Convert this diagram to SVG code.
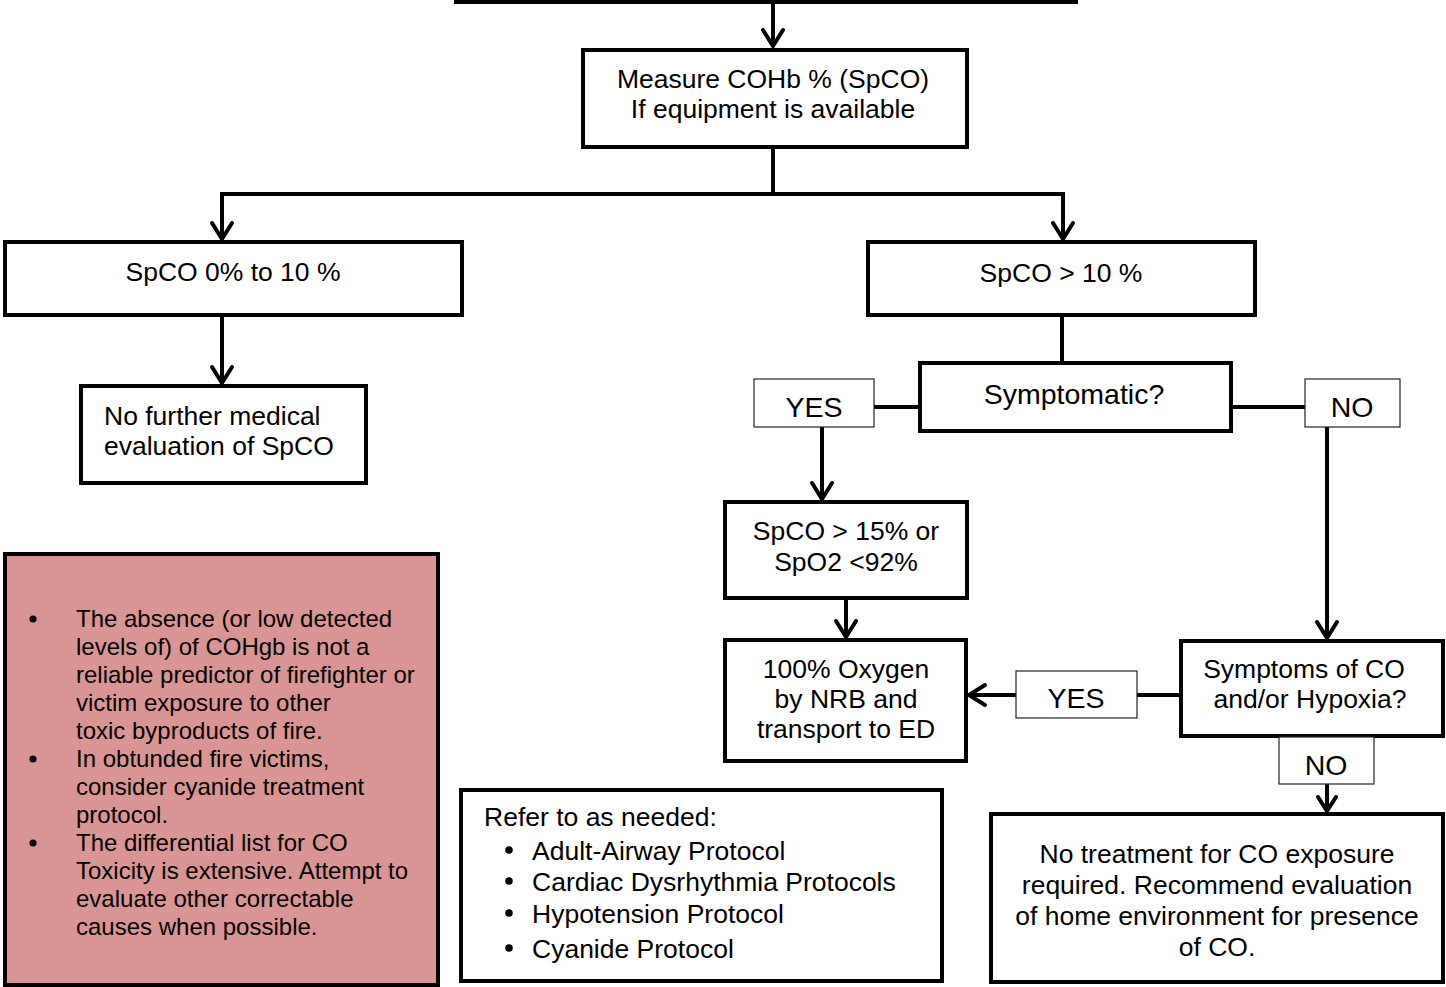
<svg xmlns="http://www.w3.org/2000/svg" width="1446" height="987" viewBox="0 0 1446 987">
<style>
.box{fill:#fff;stroke:#000;stroke-width:4}
.lbl{fill:#fff;stroke:#222;stroke-width:1.2}
.pink{fill:#D99594;stroke:#000;stroke-width:4}
.ln{fill:none;stroke:#000;stroke-width:4}
.ah{fill:none;stroke:#000;stroke-width:4;stroke-linejoin:miter;stroke-linecap:round}
text{font-family:"Liberation Sans",Arial,sans-serif;fill:#000}
.t{font-size:26.5px}
.c{text-anchor:middle}
.l{font-size:28.5px}
.s{font-size:24px}
</style>
<g id="connectors">
<line class="ln" x1="773" y1="2" x2="773" y2="46"/>
<polyline class="ah" points="763,30 773,46 783,30"/>
<line class="ln" x1="773" y1="148" x2="773" y2="194"/>
<polyline class="ln" points="222,239 222,194 1063,194 1063,239"/>
<polyline class="ah" points="212,223 222,239 232,223"/>
<polyline class="ah" points="1053,223 1063,239 1073,223"/>
<line class="ln" x1="222" y1="316" x2="222" y2="383"/>
<polyline class="ah" points="212,367 222,383 232,367"/>
<line class="ln" x1="1062" y1="316" x2="1062" y2="362"/>
<line class="ln" x1="874" y1="407" x2="920" y2="407"/>
<line class="ln" x1="1231" y1="407" x2="1305" y2="407"/>
<line class="ln" x1="822" y1="427" x2="822" y2="499"/>
<polyline class="ah" points="812,483 822,499 832,483"/>
<line class="ln" x1="846" y1="599" x2="846" y2="637"/>
<polyline class="ah" points="836,621 846,637 856,621"/>
<line class="ln" x1="1327" y1="427" x2="1327" y2="638"/>
<polyline class="ah" points="1317,622 1327,638 1337,622"/>
<line class="ln" x1="1137" y1="695" x2="1181" y2="695"/>
<line class="ln" x1="1016" y1="695" x2="969" y2="695"/>
<polyline class="ah" points="985,685 969,695 985,705"/>
<line class="ln" x1="1327" y1="784" x2="1327" y2="811"/>
<polyline class="ah" points="1318,797 1327,811 1336,797"/>
</g>
<g id="top-box"><rect class="box" x="456" y="-40" width="620" height="42"/></g>
<g id="measure">
<rect class="box" x="583" y="50" width="384" height="97"/>
<text class="t c" x="773" y="88">Measure COHb % (SpCO)</text>
<text class="t c" x="773" y="118">If equipment is available</text>
</g>
<g id="spco-low">
<rect class="box" x="5" y="242" width="457" height="73"/>
<text class="t c" x="233" y="281">SpCO 0% to 10 %</text>
</g>
<g id="spco-high">
<rect class="box" x="868" y="242" width="387" height="73"/>
<text class="t c" x="1061" y="282">SpCO &gt; 10 %</text>
</g>
<g id="no-further">
<rect class="box" x="81" y="386" width="285" height="97"/>
<text class="t" x="104" y="425">No further medical</text>
<text class="t" x="104" y="455">evaluation of SpCO</text>
</g>
<g id="symptomatic">
<rect class="box" x="920" y="363" width="311" height="68"/>
<text class="l c" x="1074" y="404">Symptomatic?</text>
</g>
<g id="yes1">
<rect class="lbl" x="754" y="379" width="120" height="48"/>
<text class="l c" x="814" y="417">YES</text>
</g>
<g id="no1">
<rect class="lbl" x="1305" y="379" width="95" height="48"/>
<text class="l c" x="1352" y="417">NO</text>
</g>
<g id="spco15">
<rect class="box" x="725" y="502" width="242" height="96"/>
<text class="t c" x="846" y="540">SpCO &gt; 15% or</text>
<text class="t c" x="846" y="571">SpO2 &lt;92%</text>
</g>
<g id="oxygen">
<rect class="box" x="725" y="640" width="241" height="121"/>
<text class="t c" x="846" y="678">100% Oxygen</text>
<text class="t c" x="846" y="708">by NRB and</text>
<text class="t c" x="846" y="738">transport to ED</text>
</g>
<g id="symptoms-co">
<rect class="box" x="1181" y="641" width="262" height="95"/>
<text class="t c" x="1304" y="678">Symptoms of CO</text>
<text class="t c" x="1310" y="708">and/or Hypoxia?</text>
</g>
<g id="yes2">
<rect class="lbl" x="1016" y="671" width="121" height="47"/>
<text class="l c" x="1076" y="708">YES</text>
</g>
<g id="no2">
<rect class="lbl" x="1279" y="737" width="95" height="47"/>
<text class="l c" x="1326" y="775">NO</text>
</g>
<g id="no-treatment">
<rect class="box" x="991" y="814" width="452" height="168"/>
<text class="t c" x="1217" y="863">No treatment for CO exposure</text>
<text class="t c" x="1217" y="894">required. Recommend evaluation</text>
<text class="t c" x="1217" y="925">of home environment for presence</text>
<text class="t c" x="1217" y="956">of CO.</text>
</g>
<g id="refer">
<rect class="box" x="461" y="790" width="481" height="191"/>
<text class="t" x="484" y="826">Refer to as needed:</text>
<circle cx="509" cy="850" r="3.8"/>
<text class="t" x="532" y="860">Adult-Airway Protocol</text>
<circle cx="509" cy="881" r="3.8"/>
<text class="t" x="532" y="891">Cardiac Dysrhythmia Protocols</text>
<circle cx="509" cy="913" r="3.8"/>
<text class="t" x="532" y="923">Hypotension Protocol</text>
<circle cx="509" cy="948" r="3.8"/>
<text class="t" x="532" y="958">Cyanide Protocol</text>
</g>
<g id="notes">
<rect class="pink" x="5" y="554" width="433" height="431"/>
<circle cx="33" cy="619" r="3.6"/>
<text class="s" x="76" y="627">The absence (or low detected</text>
<text class="s" x="76" y="655">levels of) of COHgb is not a</text>
<text class="s" x="76" y="683">reliable predictor of firefighter or</text>
<text class="s" x="76" y="711">victim exposure to other</text>
<text class="s" x="76" y="739">toxic byproducts of fire.</text>
<circle cx="33" cy="759" r="3.6"/>
<text class="s" x="76" y="767">In obtunded fire victims,</text>
<text class="s" x="76" y="795">consider cyanide treatment</text>
<text class="s" x="76" y="823">protocol.</text>
<circle cx="33" cy="843" r="3.6"/>
<text class="s" x="76" y="851">The differential list for CO</text>
<text class="s" x="76" y="879">Toxicity is extensive. Attempt to</text>
<text class="s" x="76" y="907">evaluate other correctable</text>
<text class="s" x="76" y="935">causes when possible.</text>
</g>
</svg>
